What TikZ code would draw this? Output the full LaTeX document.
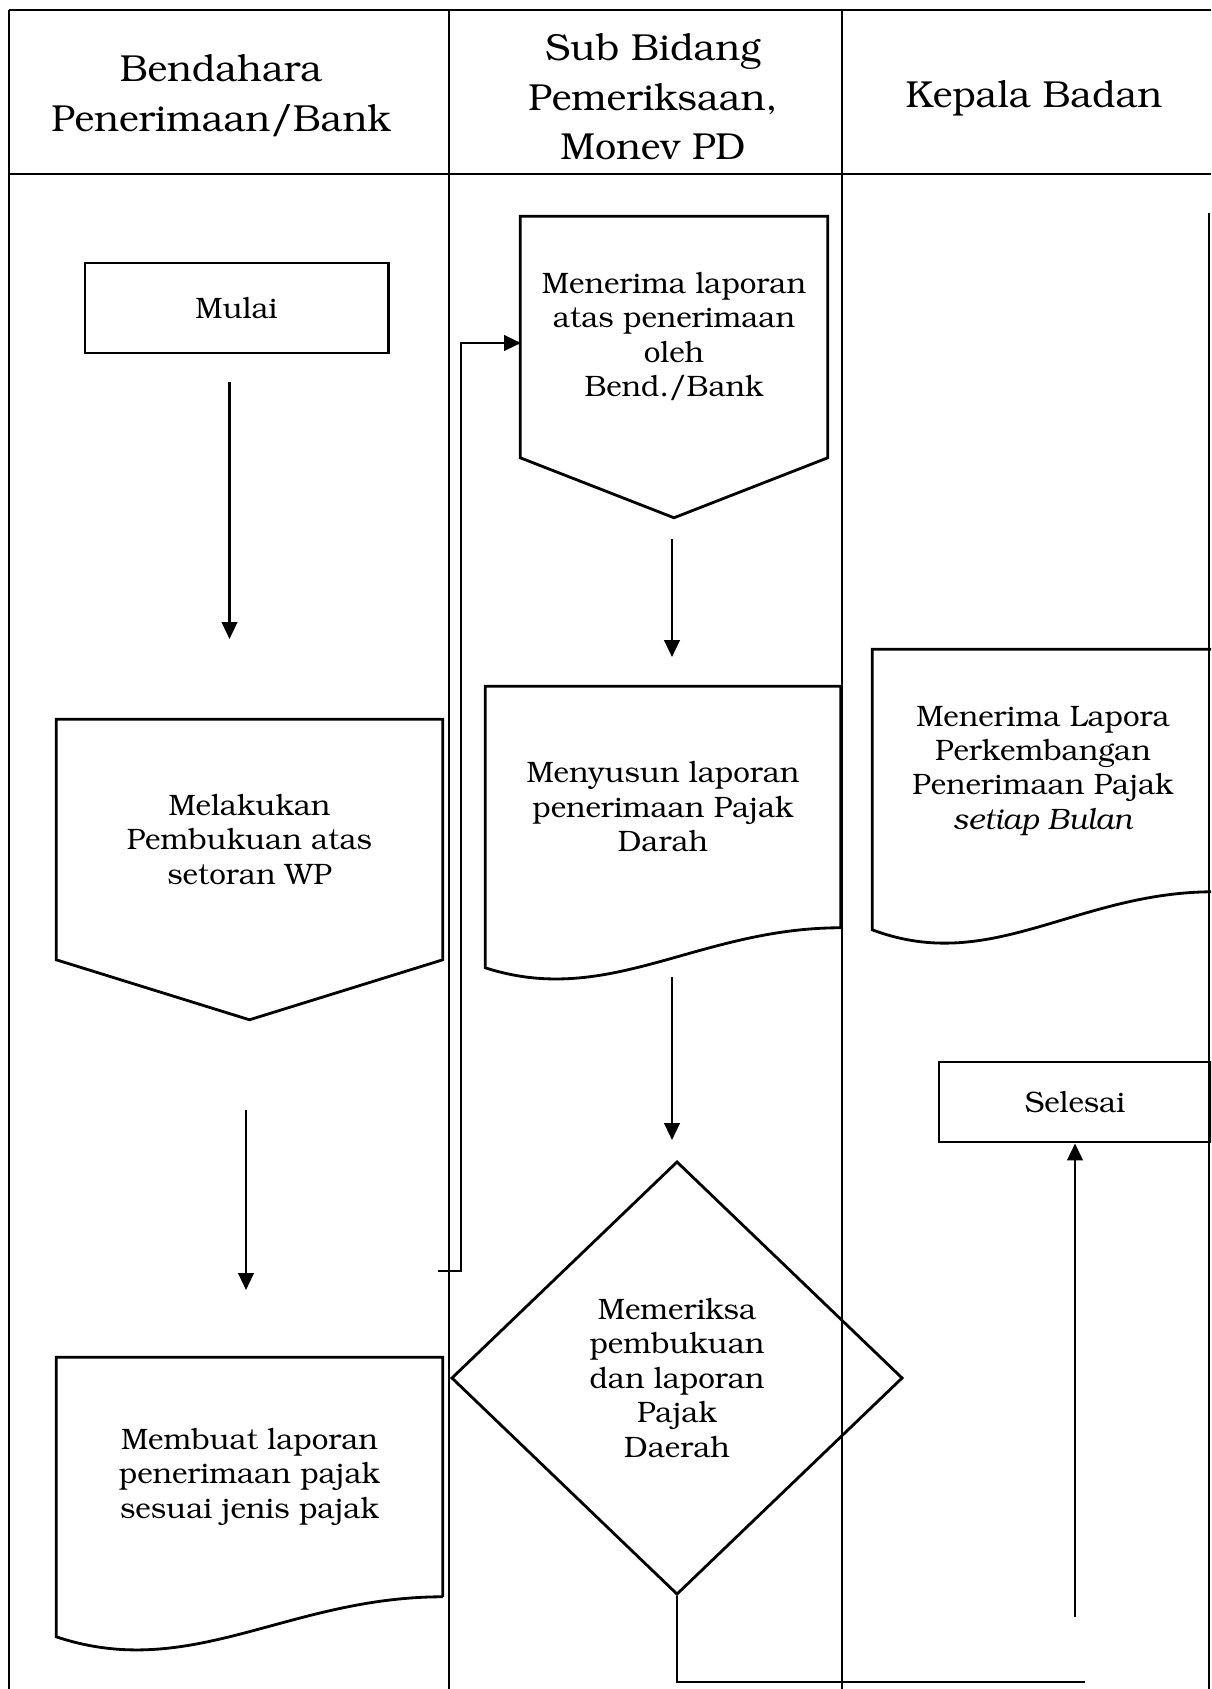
\documentclass[tikz,border=0pt]{standalone}
\usepackage[T1]{fontenc}
\usepackage{bookman}
\usetikzlibrary{arrows.meta,shapes.geometric,calc}

\begin{document}
\begin{tikzpicture}[x=0.01cm, y=-0.01cm, >={Triangle[length=4.8pt,width=4.4pt]},
  lane/.style={line width=0.6pt},
  garis/.style={line width=0.8pt},
  judul/.style={align=center, font=\fontsize{10.7}{14.06}\selectfont},
  isi/.style={align=center, inner sep=0pt, font=\fontsize{8.4}{9.8}\selectfont},
  kotak/.style={isi, draw, line width=0.8pt},
  panah/.style={->, line width=0.7pt}]
  \useasboundingbox (0,0) rectangle (1211,1689);
  \clip (0,0) rectangle (1211,1689);

  % lanes
  \draw[lane] (9,10) -- (1211,10);
  \draw[lane] (9,174) -- (1211,174);
  \draw[lane] (9,10) -- (9,1689);
  \draw[lane] (449,10) -- (449,1689);
  \draw[lane] (842,10) -- (842,1689);
  \draw[lane] (1209,213) -- (1209,1689);

  \node[judul] (bend)  at (221,96)  {Bendahara\\Penerimaan/Bank};
  \node[judul] (sub)   at (653,97)  {Sub Bidang\\Pemeriksaan,\\Monev PD};
  \node[judul] (kepala) at (1034,99) {Kepala Badan};

  % Bendahara
  \node[kotak, minimum width=3.03cm, minimum height=0.9cm] (mulai) at (236.5,308) {Mulai};
  \node[isi, minimum width=3.85cm, minimum height=2.39cm] (bukukan) at (249.5,839.5)
    {Melakukan\\Pembukuan atas\\setoran WP};
  \draw[garis] (bukukan.north west) -- (bukukan.north east) -- (bukukan.south east)
    -- ($(bukukan.south)+(0,60)$) -- (bukukan.south west) -- cycle;
  \node[isi, minimum width=3.85cm, minimum height=2.38cm] (buat) at (249.5,1477)
    {Membuat laporan\\penerimaan pajak\\sesuai jenis pajak};
  \draw[garis] (buat.south east) -- (buat.north east) -- (buat.north west)
    -- ($(buat.south west)+(0,40)$) .. controls ($(buat.south west)+(135,85)$)
    and ($(buat.south west)+(231,0)$) .. (buat.south east);

  % Sub Bidang
  \node[isi, minimum width=3.06cm, minimum height=2.4cm] (terima) at (674,337)
    {Menerima laporan\\atas penerimaan\\oleh\\Bend./Bank};
  \draw[garis] (terima.north west) -- (terima.north east) -- (terima.south east)
    -- ($(terima.south)+(0,60)$) -- (terima.south west) -- cycle;
  \node[isi, minimum width=3.54cm, minimum height=2.4cm] (susun) at (663,807)
    {Menyusun laporan\\penerimaan Pajak\\Darah};
  \draw[garis] (susun.south east) -- (susun.north east) -- (susun.north west)
    -- ($(susun.south west)+(0,40)$) .. controls ($(susun.south west)+(124,80)$)
    and ($(susun.south west)+(212,0)$) .. (susun.south east);
  \node[kotak, diamond, minimum width=4.51cm, minimum height=4.33cm] (periksa) at (677,1378)
    {Memeriksa\\pembukuan\\dan laporan\\Pajak\\Daerah};

  % Kepala Badan
  \node[isi, minimum width=3.4cm, minimum height=2.41cm] (lapora) at (1043,770.5)
    {Menerima Lapora\\Perkembangan\\Penerimaan Pajak\\\textit{setiap Bulan}};
  \draw[garis] (lapora.south east) -- (lapora.north east) -- (lapora.north west)
    -- ($(lapora.south west)+(0,38)$) .. controls ($(lapora.south west)+(119,83)$)
    and ($(lapora.south west)+(204,0)$) .. (lapora.south east);
  \node[kotak, minimum width=2.72cm, minimum height=0.8cm] (selesai) at (1075,1102) {Selesai};

  % arrows
  \coordinate (a1) at (229.5,382);  \coordinate (b1) at (229.5,639);
  \coordinate (a2) at (246,1110);   \coordinate (b2) at (246,1290);
  \coordinate (a3) at (672,539);    \coordinate (b3) at (672,657);
  \coordinate (a4) at (672,977);    \coordinate (b4) at (672,1140);
  \coordinate (k1) at (438,1271);   \coordinate (k2) at (521,343);
  \coordinate (p1) at (1085,1682);  \coordinate (s1) at (1075,1617);

  \path[panah] (a1) edge (b1)
               (a2) edge (b2)
               (a3) edge (b3)
               (a4) edge (b4);
  \draw[panah] (k1) -| (461,343) -- (k2);
  \draw[lane] (periksa.south) |- (p1);
  \draw[panah] (s1) -- (selesai.south);
\end{tikzpicture}
\end{document}
